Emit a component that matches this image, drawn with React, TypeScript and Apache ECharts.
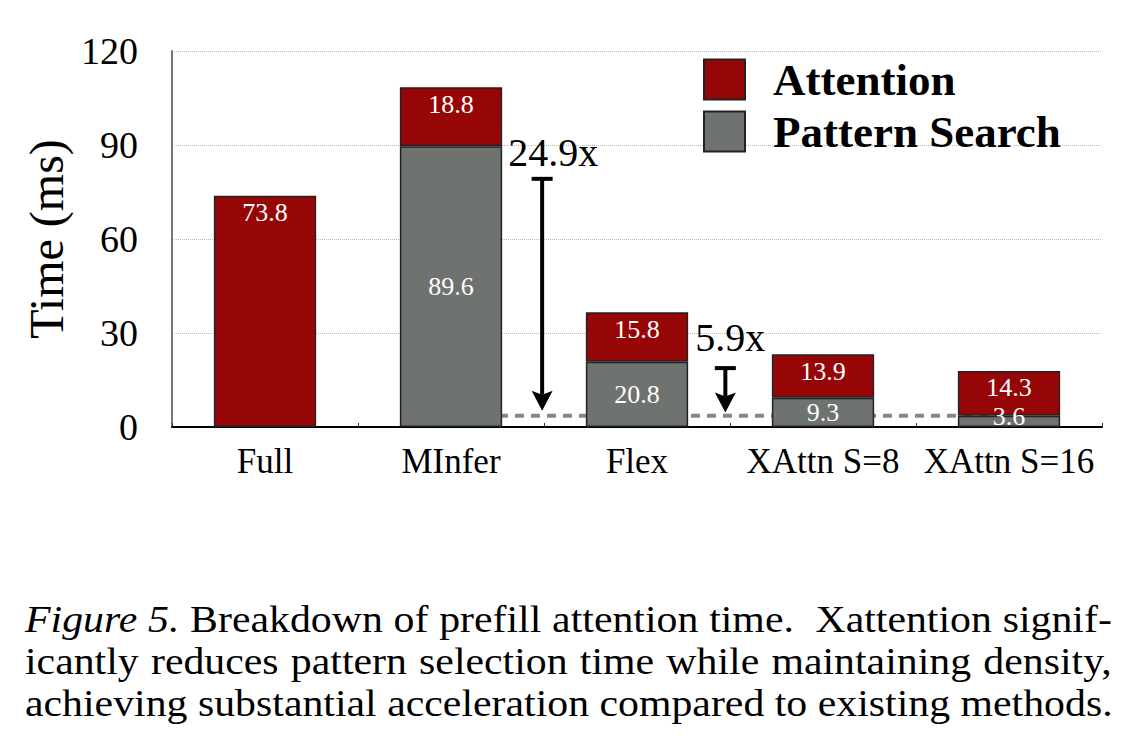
import React, { useEffect, useRef } from "react";
import * as echarts from "echarts";

const categories = ["Full", "MInfer", "Flex", "XAttn S=8", "XAttn S=16"];
const attention = [73.8, 18.8, 15.8, 13.9, 14.3];
const patternSearch: (number | null)[] = [null, 89.6, 20.8, 9.3, 3.6];
const yTicks = { min: 0, max: 120, interval: 30 };

const speedups = ["24.9x", "5.9x"];
const arrowPos = [1.49, 2.475];
const arrowTop = [79.2, 18.8];
const arrowTip = [5.2, 4.6];
const speedupLabelY = [87.6, 28.7];
const speedupLabelDx = [-34, -30];

const captionLines = [
  ["Figure 5.", " Breakdown of prefill attention time.  Xattention signif-"],
  ["", "icantly reduces pattern selection time while maintaining density,"],
  ["", "achieving substantial acceleration compared to existing methods."],
];

const RED = "#970606";
const GRAY = "#6e7370";
const SERIF = "Liberation Serif, Times New Roman, serif";

export default function App() {
  const ref = useRef<HTMLDivElement>(null);

  useEffect(() => {
    if (!ref.current) return;
    const chart = echarts.init(ref.current, null, { renderer: "svg" });
    const fmt = (p: any) => Number(p.value).toFixed(1);
    chart.setOption({
      animation: false,
      backgroundColor: "#fff",
      grid: { left: 172, right: 28, top: 51, bottom: 321, containLabel: false },
      legend: {
        data: ["Attention", "Pattern Search"],
        orient: "vertical",
        left: 698,
        top: 52,
        itemWidth: 41,
        itemHeight: 40,
        itemGap: 7,
        icon: "rect",
        textStyle: {
          fontFamily: SERIF,
          fontWeight: "bold",
          fontSize: 45,
          lineHeight: 44,
          color: "#000",
          padding: [0, 0, 0, 23],
        },
      },
      xAxis: {
        type: "category",
        data: categories,
        axisLine: { lineStyle: { color: "#000", width: 2 } },
        axisTick: { show: true, inside: true, length: 4, lineStyle: { color: "#333", width: 1 } },
        axisLabel: { interval: 0, fontFamily: SERIF, fontSize: 35, color: "#000", margin: 17 },
      },
      yAxis: {
        type: "value",
        min: yTicks.min,
        max: yTicks.max,
        interval: yTicks.interval,
        name: "Time (ms)",
        nameLocation: "middle",
        nameRotate: 90,
        nameGap: 96,
        nameTextStyle: { fontFamily: SERIF, fontSize: 48, color: "#000" },
        axisLine: { show: true, lineStyle: { color: "#777", width: 2 } },
        axisTick: { show: false },
        axisLabel: { fontFamily: SERIF, fontSize: 38, color: "#000", margin: 34 },
        splitLine: { lineStyle: { color: "#bbb", type: "dotted", width: 1 } },
      },
      series: [
        {
          name: "Pattern Search",
          type: "bar",
          stack: "t",
          barWidth: "55%",
          data: patternSearch.map((v, i) =>
            i === patternSearch.length - 1 ? { value: v, label: { offset: [0, -5] } } : v
          ),
          itemStyle: { color: GRAY, borderColor: "#222", borderWidth: 1.5 },
          label: {
            show: true,
            position: "inside",
            color: "#fff",
            fontFamily: SERIF,
            fontSize: 26,
            formatter: fmt,
          },
        },
        {
          name: "Attention",
          type: "bar",
          stack: "t",
          barWidth: "55%",
          data: attention,
          itemStyle: { color: RED, borderColor: "#222", borderWidth: 1.5 },
          label: {
            show: true,
            position: "insideTop",
            distance: 4,
            color: "#fff",
            fontFamily: SERIF,
            fontSize: 26,
            formatter: fmt,
          },
        },
      ],
    });

    const px = (catF: number, v: number) => {
      const i = Math.floor(catF);
      const f = catF - i;
      const a = chart.convertToPixel({ gridIndex: 0 }, [categories[i], v]) as number[];
      const j = Math.min(i + 1, categories.length - 1);
      const b = chart.convertToPixel({ gridIndex: 0 }, [categories[j], v]) as number[];
      return [a[0] + f * (b[0] - a[0]), a[1]];
    };

    const baseline = patternSearch[patternSearch.length - 1] as number;
    const d0 = px(1, baseline);
    const d1 = px(categories.length - 1, baseline);
    const elements: any[] = [
      {
        type: "line",
        z: 1,
        shape: { x1: d0[0], y1: d0[1], x2: d1[0], y2: d1[1] },
        style: { stroke: "#888", lineWidth: 4, lineDash: [9, 7] },
      },
    ];
    speedups.forEach((s, k) => {
      const top = px(arrowPos[k], arrowTop[k]);
      const tip = px(arrowPos[k], arrowTip[k]);
      const x = top[0];
      const headH = 20;
      const headW = 10.5;
      elements.push(
        {
          type: "line",
          z: 10,
          shape: { x1: x, y1: top[1], x2: x, y2: tip[1] - headH + 4 },
          style: { stroke: "#000", lineWidth: 4 },
        },
        {
          type: "line",
          z: 10,
          shape: { x1: x - headW, y1: top[1], x2: x + headW, y2: top[1] },
          style: { stroke: "#000", lineWidth: 4 },
        },
        {
          type: "polygon",
          z: 10,
          shape: {
            points: [
              [x - headW, tip[1] - headH],
              [x, tip[1] - headH + 4],
              [x + headW, tip[1] - headH],
              [x, tip[1]],
            ],
          },
          style: { fill: "#000" },
        }
      );
      const ly = px(arrowPos[k], speedupLabelY[k])[1];
      elements.push({
        type: "text",
        z: 10,
        x: x + speedupLabelDx[k],
        y: ly,
        style: {
          text: s,
          fontFamily: SERIF,
          fontSize: 40,
          fill: "#000",
          align: "left",
          verticalAlign: "middle",
        },
      });
    });
    chart.setOption({ graphic: { elements } });

    return () => chart.dispose();
  }, []);

  return (
    <div style={{ position: "absolute", left: 0, top: 0, width: 1130, height: 748, background: "#fff" }}>
      <div ref={ref} style={{ position: "absolute", left: 0, top: 0, width: 1130, height: 748 }} />
      <div
        style={{
          position: "absolute",
          left: 25,
          top: 598,
          width: 988,
          transform: "scaleX(1.1)",
          transformOrigin: "0 0",
          fontFamily: SERIF,
          fontSize: 38,
          lineHeight: "42px",
          color: "#000",
        }}
      >
        {captionLines.map((ln, i) => (
          <div key={i} style={{ textAlign: "justify", textAlignLast: "justify", whiteSpace: "pre" }}>
            {ln[0] ? <i>{ln[0]}</i> : null}
            {ln[1]}
          </div>
        ))}
      </div>
    </div>
  );
}
